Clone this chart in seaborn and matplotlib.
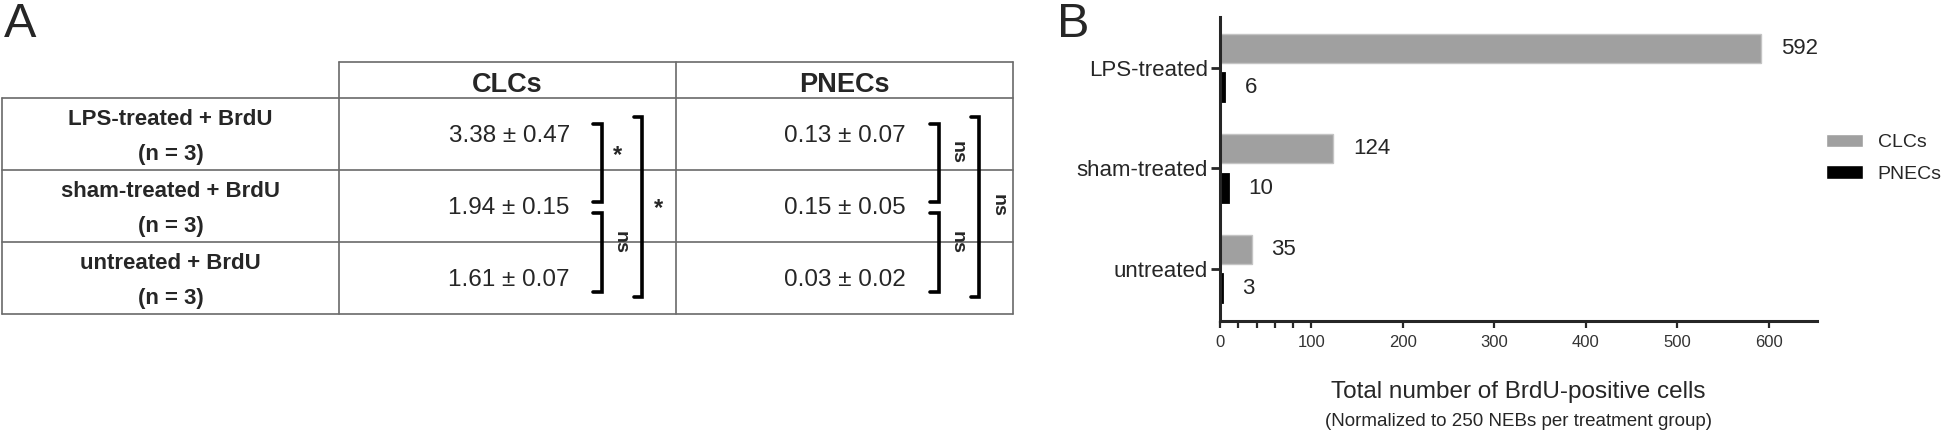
import numpy as np
import pandas as pd
import matplotlib as mpl
import matplotlib.pyplot as plt
import seaborn as sns


## Данные

groups = ['LPS-treated', 'sham-treated', 'untreated']
row_names = ['LPS-treated + BrdU', 'sham-treated + BrdU', 'untreated + BrdU']
n_animals = [3, 3, 3]
cells = ['CLCs', 'PNECs']

clc_mean = [3.38, 1.94, 1.61]
clc_sem = [0.47, 0.15, 0.07]
pnec_mean = [0.13, 0.15, 0.03]
pnec_sem = [0.07, 0.05, 0.02]

# сравнения: (строка 1, строка 2, метка)
clc_stats = [(0, 1, '*'), (1, 2, 'ns'), (0, 2, '*')]
pnec_stats = [(0, 1, 'ns'), (1, 2, 'ns'), (0, 2, 'ns')]

clc_total = [592, 124, 35]
pnec_total = [6, 10, 3]


sns.set_style('ticks')
plt.rcParams['font.family'] = ['Liberation Sans', 'DejaVu Sans']

fig = plt.figure(figsize=(19.46, 4.33), dpi=100)

fig.text(4 / 1946, 1 - 37 / 433, 'A', fontsize=35, va='baseline')
fig.text(1057 / 1946, 1 - 37 / 433, 'B', fontsize=35, va='baseline')


## Таблица (A)

axt = fig.add_axes([2 / 1946, 1 - 314 / 433, 1011 / 1946, 252 / 433])
axt.set_xlim(0, 3)
axt.set_ylim(3.5, 0)
axt.axis('off')

lc = '#6a6a6a'
lw = 1.2
axt.plot([1, 3], [0, 0], color=lc, lw=lw, clip_on=False)
for y in [0.5, 1.5, 2.5, 3.5]:
    axt.plot([0, 3], [y, y], color=lc, lw=lw, clip_on=False)
for x in [1, 2, 3]:
    axt.plot([x, x], [0, 3.5], color=lc, lw=lw, clip_on=False)
axt.plot([0, 0], [0.5, 3.5], color=lc, lw=lw, clip_on=False)

for j, name in enumerate(cells):
    axt.text(1.5 + j, 0.32, name, ha='center', va='center',
             fontsize=19.5, fontweight='bold')

for i, name in enumerate(row_names):
    yc = 1 + i
    axt.text(0.5, yc - 0.20, name, ha='center', va='center',
             fontsize=16, fontweight='bold')
    axt.text(0.5, yc + 0.28, '(n = %d)' % n_animals[i], ha='center', va='center',
             fontsize=16, fontweight='bold')
    axt.text(1.505, yc + 0.03, '%.2f ± %.2f' % (clc_mean[i], clc_sem[i]),
             ha='center', va='center', fontsize=17.5)
    axt.text(2.5, yc + 0.03, '%.2f ± %.2f' % (pnec_mean[i], pnec_sem[i]),
             ha='center', va='center', fontsize=17.5)


def bracket(xc, stats):
    for r0, r1, lab in stats:
        if r1 - r0 == 1:
            x = xc + 0.28
            if r0 == 0:
                y0, y1 = 1 + r0 - 0.14, 1 + r1 - 0.05
            else:
                y0, y1 = 1 + r0 + 0.1, 1 + r1 + 0.2
            ly = y0 + 0.4
        else:
            x = xc + 0.40
            y0, y1 = 1 + r0 - 0.23, 1 + r1 + 0.26
            ly = (y0 + y1) / 2 - 0.02
        cap = 0.025
        axt.plot([x - cap, x, x, x - cap], [y0, y0, y1, y1], color='black',
                 lw=2.6, solid_joinstyle='miter', clip_on=False)
        if lab == '*':
            axt.text(x + 0.047, ly + 0.04, lab, ha='center', va='center',
                     fontsize=17, fontweight='bold')
        else:
            axt.text(x + 0.055, ly, lab, ha='center', va='center', rotation=-90,
                     fontsize=14, fontweight='bold')


bracket(1.5, clc_stats)
bracket(2.5, pnec_stats)


## Столбчатая диаграмма (B)

df = pd.DataFrame({
    'group': groups * 2,
    'cell': [cells[0]] * 3 + [cells[1]] * 3,
    'total': clc_total + pnec_total,
})

ax = fig.add_axes([1220 / 1946, 1 - 321 / 433, 597 / 1946, 304 / 433])
sns.barplot(data=df, y='group', x='total', hue='cell', orient='h',
            palette=['#a0a0a0', 'black'], saturation=1, width=0.78, gap=0.26,
            ax=ax)

for p in ax.containers[0]:
    p.set_edgecolor('#c4c4c4')
    p.set_linewidth(1)
for p in ax.containers[1]:
    p.set_edgecolor('black')
    p.set_linewidth(1.3)

for c in ax.containers:
    ax.bar_label(c, padding=14, fontsize=16)

ax.set_xlim(0, 653)
ax.set_ylim(2.52, -0.51)
ax.set_xticks(np.arange(0, 700, 100))
ax.set_xticks([20, 40, 60, 80], minor=True)
ax.tick_params(axis='x', which='both', length=5, width=1.6, labelsize=12,
               labelcolor='#333333', pad=5)
ax.tick_params(axis='y', length=6.5, width=2, labelsize=16, pad=2)
sns.despine(ax=ax)
for s in ['left', 'bottom']:
    ax.spines[s].set_linewidth(2.2)

ax.set_ylabel('')
ax.set_xlabel('Total number of BrdU-positive cells', fontsize=17.5)
ax.xaxis.set_label_coords(0.5, -0.234)
ax.xaxis.label.set_va('center')
ax.text(0.5, -0.33, '(Normalized to 250 NEBs per treatment group)',
        transform=ax.transAxes, ha='center', va='center', fontsize=13.5)

sns.move_legend(ax, 'upper left', bbox_to_anchor=(1826 / 1946, 1 - 134 / 433),
                bbox_transform=fig.transFigure, frameon=False, title=None,
                fontsize=14, handlelength=1.9, handleheight=0.67,
                labelspacing=0.72, handletextpad=0.75, borderpad=0,
                borderaxespad=0)

fig.savefig('out.png', dpi=100)
